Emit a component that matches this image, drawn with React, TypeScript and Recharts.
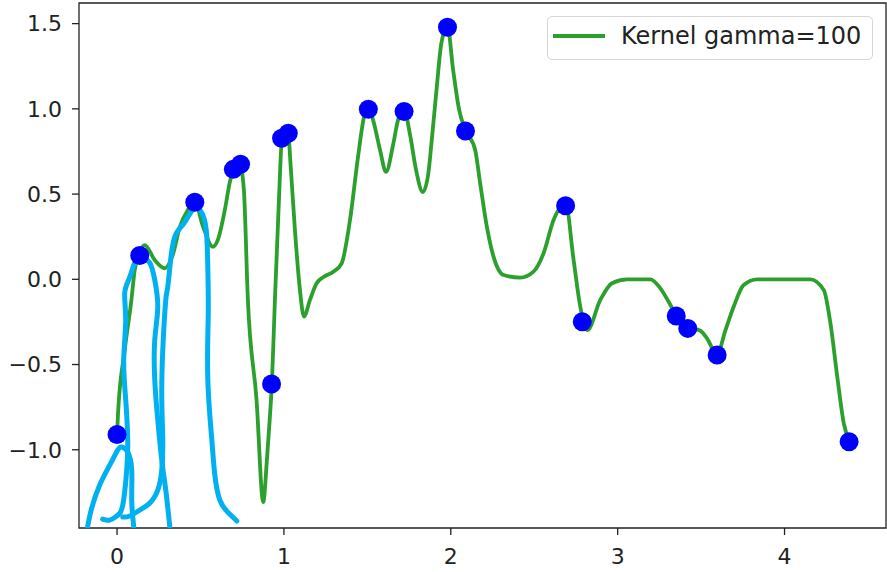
import React from 'react';
import { ComposedChart, Line, Scatter, XAxis, YAxis, ReferenceArea } from 'recharts';

// Kernel regression curve (gamma = 100)
const curveX = [0.000, 0.006, 0.046, 0.086, 0.106, 0.136, 0.166, 0.226, 0.286, 0.334, 0.376, 0.424, 0.466, 0.514, 0.574, 0.604, 0.646, 0.676, 0.700, 0.736, 0.760, 0.784, 0.836, 0.876, 0.898, 0.916, 0.928, 0.946, 0.970, 0.988, 1.024, 1.042, 1.066, 1.096, 1.120, 1.156, 1.196, 1.246, 1.294, 1.346, 1.396, 1.444, 1.480, 1.506, 1.534, 1.576, 1.612, 1.654, 1.684, 1.720, 1.756, 1.792, 1.832, 1.864, 1.886, 1.916, 1.942, 1.980, 2.014, 2.050, 2.088, 2.146, 2.176, 2.216, 2.256, 2.316, 2.416, 2.496, 2.556, 2.616, 2.688, 2.736, 2.776, 2.818, 2.896, 2.966, 3.056, 3.196, 3.256, 3.316, 3.351, 3.420, 3.494, 3.534, 3.596, 3.646, 3.695, 3.755, 3.836, 4.155, 4.235, 4.275, 4.316, 4.355, 4.389];
const curveY = [-0.908, -0.785, -0.415, -0.121, 0.055, 0.160, 0.201, 0.113, 0.065, 0.143, 0.307, 0.407, 0.454, 0.313, 0.191, 0.231, 0.407, 0.571, 0.647, 0.674, 0.524, -0.120, -0.708, -1.307, -1.060, -0.806, -0.609, -0.121, 0.462, 0.817, 0.864, 0.641, 0.289, -0.063, -0.219, -0.121, -0.023, 0.019, 0.043, 0.094, 0.348, 0.718, 0.952, 1.005, 0.935, 0.759, 0.630, 0.788, 0.935, 0.994, 0.847, 0.641, 0.512, 0.612, 0.817, 1.128, 1.375, 1.486, 1.228, 0.994, 0.876, 0.759, 0.563, 0.309, 0.133, 0.025, 0.010, 0.045, 0.153, 0.348, 0.442, 0.113, -0.161, -0.298, -0.121, -0.023, 0.0, 0.0, -0.053, -0.151, -0.215, -0.285, -0.300, -0.345, -0.440, -0.298, -0.161, -0.033, 0.0, 0.0, -0.063, -0.258, -0.572, -0.845, -0.953];

// Sample points (blue dots)
const dotX = [0.000, 0.136, 0.466, 0.697, 0.740, 0.926, 0.986, 1.026, 1.506, 1.720, 1.980, 2.088, 2.688, 2.788, 3.351, 3.420, 3.596, 4.387];
const dotY = [-0.910, 0.140, 0.452, 0.645, 0.675, -0.614, 0.827, 0.857, 0.998, 0.984, 1.479, 0.870, 0.432, -0.249, -0.215, -0.288, -0.444, -0.953];

// Hand-drawn cyan strokes over the chart
const stroke1X = [-0.176, -0.152, -0.104, -0.044, 0.004, 0.028, 0.064, 0.088, 0.088, 0.100];
const stroke1Y = [-1.450, -1.342, -1.207, -1.090, -1.002, -0.984, -1.013, -1.119, -1.295, -1.450];
const stroke2X = [-0.086, -0.044, -0.002, 0.034, 0.058, 0.064, 0.052, 0.040, 0.052, 0.046, 0.076, 0.106, 0.146, 0.196, 0.226, 0.244, 0.226, 0.226, 0.244, 0.268, 0.292, 0.316];
const stroke2Y = [-1.407, -1.413, -1.389, -1.325, -1.119, -0.943, -0.708, -0.474, -0.239, -0.080, 0.013, 0.096, 0.125, 0.096, -0.004, -0.163, -0.356, -0.591, -0.825, -1.060, -1.237, -1.450];
const stroke3X = [0.034, 0.076, 0.136, 0.196, 0.244, 0.268, 0.274, 0.268, 0.274, 0.292, 0.304, 0.326, 0.356, 0.406, 0.466, 0.514, 0.538, 0.546, 0.546, 0.544, 0.568, 0.586, 0.616, 0.664, 0.718];
const stroke3Y = [-1.395, -1.389, -1.354, -1.313, -1.237, -1.119, -0.943, -0.708, -0.415, -0.121, -0.045, 0.154, 0.272, 0.336, 0.418, 0.377, 0.248, -0.045, -0.239, -0.591, -0.943, -1.149, -1.296, -1.366, -1.418];

const xTicks = [0, 1, 2, 3, 4];
const yTicks = [-1.0, -0.5, 0.0, 0.5, 1.0, 1.5];
const seriesName = 'Kernel gamma=100';

const X_DOMAIN: [number, number] = [-0.228, 4.608];
const Y_DOMAIN: [number, number] = [-1.459, 1.621];

const zip = (xs: number[], ys: number[]) => xs.map((x, i) => ({ x, y: ys[i] }));
const curveData = zip(curveX, curveY);
const dotData = zip(dotX, dotY);
const strokes = [zip(stroke1X, stroke1Y), zip(stroke2X, stroke2Y), zip(stroke3X, stroke3Y)];

const FONT = 'DejaVu Sans';
const tickStyle = { fontFamily: FONT, fontSize: 22, fill: '#222' };
const fmtY = (v: number) => v.toFixed(1).replace('-', '\u2212');

const Dot = (props: any) => <circle cx={props.cx} cy={props.cy} r={9.5} fill="#0000ff" />;

export default function App() {
  return (
    <div style={{ position: 'absolute', left: 0, top: 0, width: 887, height: 572, background: '#fff' }}>
      <ComposedChart width={887} height={572} margin={{ top: 3, right: 1, bottom: 0, left: 0 }}>
        <XAxis
          dataKey="x"
          type="number"
          domain={X_DOMAIN}
          ticks={xTicks}
          allowDataOverflow
          axisLine={false}
          tickSize={7}
          tickMargin={13}
          height={44}
          tick={tickStyle}
          tickLine={{ stroke: '#222', strokeWidth: 1.3 }}
        />
        <YAxis
          type="number"
          domain={Y_DOMAIN}
          ticks={yTicks}
          allowDataOverflow
          axisLine={false}
          tickSize={7}
          tickMargin={10}
          width={79}
          tick={tickStyle}
          tickFormatter={fmtY}
          tickLine={{ stroke: '#222', strokeWidth: 1.3 }}
        />
        <Line
          data={curveData}
          dataKey="y"
          name={seriesName}
          type="monotone"
          stroke="#2ca02c"
          strokeWidth={3.8}
          dot={false}
          activeDot={false}
          isAnimationActive={false}
        />
        <Scatter data={dotData} dataKey="y" fill="#0000ff" shape={Dot} isAnimationActive={false} />
        {strokes.map((s, i) => (
          <Line
            key={i}
            data={s}
            dataKey="y"
            type="natural"
            stroke="#00b0f0"
            strokeWidth={5}
            strokeLinecap="round"
            strokeLinejoin="round"
            dot={false}
            activeDot={false}
            legendType="none"
            isAnimationActive={false}
          />
        ))}
        <ReferenceArea
          x1={X_DOMAIN[0]}
          x2={X_DOMAIN[1]}
          y1={Y_DOMAIN[0]}
          y2={Y_DOMAIN[1]}
          fill="none"
          fillOpacity={0}
          stroke="#222"
          strokeWidth={1.3}
          ifOverflow="visible"
        />
      </ComposedChart>
      <div
        style={{
          position: 'absolute',
          left: 547,
          top: 16,
          width: 324,
          height: 42,
          border: '1.5px solid #d6d6d6',
          borderRadius: 5,
          background: '#fff',
        }}
      >
        <svg style={{ position: 'absolute', left: 4, top: 0 }} width={56} height={42}>
          <line x1={1} y1={19} x2={53} y2={19} stroke="#2ca02c" strokeWidth={3.8} />
        </svg>
        <span
          style={{
            position: 'absolute',
            left: 73,
            top: -2,
            lineHeight: '42px',
            fontFamily: FONT,
            fontSize: 24,
            color: '#222',
            whiteSpace: 'nowrap',
          }}
        >
          {seriesName}
        </span>
      </div>
    </div>
  );
}
